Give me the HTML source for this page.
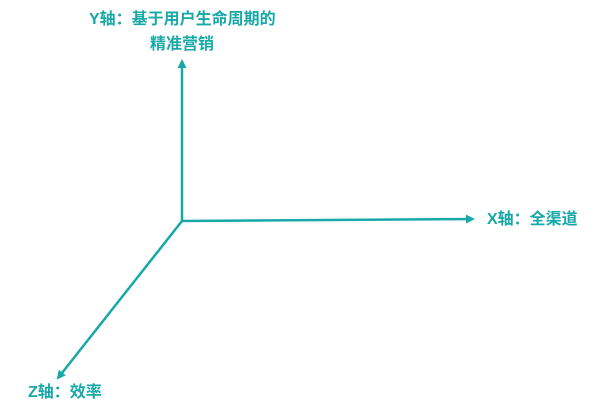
<!DOCTYPE html>
<html><head><meta charset="utf-8"><style>
body{margin:0;width:600px;height:409px;background:#fff;position:relative;overflow:hidden}
.t{position:absolute;color:#17a8a8;font:bold 16px "Liberation Sans","Noto Sans CJK SC",sans-serif;white-space:nowrap;line-height:18px}
</style></head><body>
<svg width="600" height="409" style="position:absolute;left:0;top:0">
<defs><marker id="a" markerWidth="9" markerHeight="9" refX="7" refY="4.5" orient="auto" markerUnits="userSpaceOnUse"><path d="M0,0 L9,4.5 L0,9 Z" fill="#17a8a8"/></marker></defs>
<g stroke="#17a8a8" stroke-width="2.5" fill="none">
<line x1="182" y1="222" x2="182" y2="61" marker-end="url(#a)"/>
<line x1="181" y1="221" x2="473" y2="219" marker-end="url(#a)"/>
<line x1="182" y1="221" x2="58" y2="378" marker-end="url(#a)"/>
</g></svg>
<div class="t" style="left:89px;top:11px">Y轴：基于用户生命周期的</div>
<div class="t" style="left:150px;top:36px">精准营销</div>
<div class="t" style="left:487px;top:211px">X轴：全渠道</div>
<div class="t" style="left:28px;top:384px">Z轴：效率</div>
</body></html>
